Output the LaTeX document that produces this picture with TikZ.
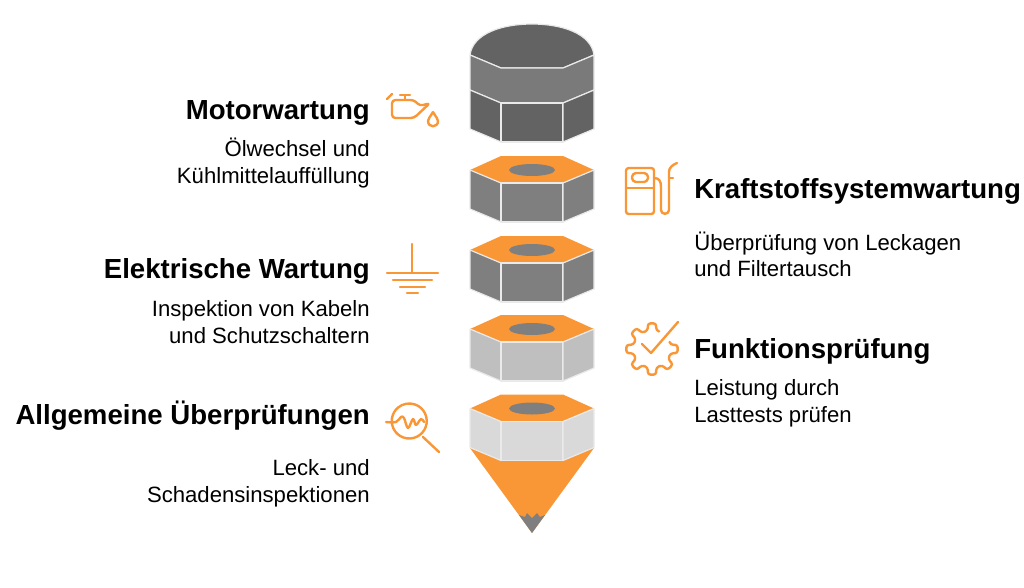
\documentclass[tikz,border=0pt]{standalone}
\usepackage{fontspec}
\setmainfont{Liberation Sans}
\usepackage{xcolor}
\usetikzlibrary{calc}
\definecolor{nutorange}{HTML}{F99737}
\definecolor{nutdark}{HTML}{636363}
\definecolor{nutmid}{HTML}{7F7F7F}
\definecolor{nutlight}{HTML}{BFBFBF}
\definecolor{nutpale}{HTML}{D9D9D9}
\definecolor{nutedge}{HTML}{EAEAEA}
\tikzset{
    heading/.style={font=\fontsize{20.7}{24}\selectfont\bfseries, inner sep=0pt},
    bodytext/.style={font=\fontsize{16.6}{20}\selectfont, inner sep=0pt},
    nutface/.style={draw=nutedge, line width=0.9pt, line join=round},
    icon/.style={draw=nutorange, line width=1.8pt, line cap=round, line join=round}
}

\begin{document}
\begin{tikzpicture}[x=0.75pt, y=-0.75pt]
    \useasboundingbox (0, 0) rectangle (1024, 587);

    \draw [nutface, fill=nutdark] (470, 55) .. controls (473, 33) and (503, 24) .. (532, 24) .. controls (561, 24) and (591, 33) .. (594, 55) -- (563, 68) -- (501, 68) -- cycle;
    \draw [nutface, fill=nutmid!96!black] (470, 55) -- (501, 68) -- (563, 68) -- (594, 55) -- (594, 90) -- (563, 103) -- (501, 103) -- (470, 90) -- cycle;
    \draw [nutface, fill=nutdark] (470, 90) -- (501, 103) -- (501, 142) -- (470, 129) -- cycle;
    \draw [nutface, fill=nutdark] (501, 103) -- (563, 103) -- (563, 142) -- (501, 142) -- cycle;
    \draw [nutface, fill=nutdark] (563, 103) -- (594, 90) -- (594, 129) -- (563, 142) -- cycle;

    \fill [nutorange] (470, 448) -- (532, 533) -- (594, 448) -- cycle;
    \fill [nutmid] (532, 533) -- (519, 515) -- (525, 517) -- (527, 513) -- (532, 518) -- (537, 513) -- (540, 517) -- (545, 515) -- cycle;

    \foreach \y/\col in {156/nutmid, 236/nutmid, 315/nutlight, 394.5/nutpale} {
        \fill [nutorange] (501, \y) -- (563, \y) -- (594, \y+14) -- (563, \y+27) -- (501, \y+27) -- (470, \y+14) -- cycle;
        \fill [nutmid] (532, \y+14) ellipse (23 and 6);
        \draw [nutface, fill=\col] (470, \y+14) -- (501, \y+27) -- (501, \y+66) -- (470, \y+53) -- cycle;
        \draw [nutface, fill=\col] (501, \y+27) -- (563, \y+27) -- (563, \y+66) -- (501, \y+66) -- cycle;
        \draw [nutface, fill=\col] (563, \y+27) -- (594, \y+14) -- (594, \y+53) -- (563, \y+66) -- cycle;
    }

    \node [heading, anchor=base east] (motor) at (370, 119) {Motorwartung};
    \node [bodytext, anchor=base east] (motora) at (370, 156) {Ölwechsel und};
    \node [bodytext, anchor=base east] (motorb) at (370, 183) {Kühlmittelauffüllung};
    \node [heading, anchor=base east] (elektrik) at (370, 278) {Elektrische Wartung};
    \node [bodytext, anchor=base east] (elektrika) at (370, 316) {Inspektion von Kabeln};
    \node [bodytext, anchor=base east] (elektrikb) at (370, 343) {und Schutzschaltern};
    \node [heading, anchor=base east] (allgemein) at (370, 424) {Allgemeine Überprüfungen};
    \node [bodytext, anchor=base east] (allgemeina) at (370, 475) {Leck- und};
    \node [bodytext, anchor=base east] (allgemeinb) at (370, 502) {Schadensinspektionen};
    \node [heading, anchor=base west] (kraftstoff) at (694, 198) {Kraftstoffsystemwartung};
    \node [bodytext, anchor=base west] (kraftstoffa) at (694, 250) {Überprüfung von Leckagen};
    \node [bodytext, anchor=base west] (kraftstoffb) at (694, 276) {und Filtertausch};
    \node [heading, anchor=base west] (funktion) at (694, 358) {Funktionsprüfung};
    \node [bodytext, anchor=base west] (funktiona) at (694, 395) {Leistung durch};
    \node [bodytext, anchor=base west] (funktionb) at (694, 422) {Lasttests prüfen};

    \draw [icon] (387, 99) -- (392, 94);
    \draw [icon] (400, 95) -- (410, 95) (405, 95) -- (405, 100);
    \draw [icon, rounded corners=2.5pt] (392, 100) -- (414, 100) -- (420, 106) -- (430, 103) -- (414, 118) -- (392, 118) -- cycle;
    \draw [icon] (433, 112) .. controls (430, 117) and (428, 119) .. (428, 121) .. controls (428, 128) and (438, 128) .. (438, 121) .. controls (438, 119) and (436, 117) .. (433, 112);

    \draw [icon, rounded corners=2pt] (626, 168) rectangle (654, 214);
    \draw [icon] (626, 188) -- (654, 188);
    \draw [icon, rounded corners=3pt] (632, 173) rectangle (648, 182);
    \draw [icon] (654, 178) .. controls (659, 178) and (661, 181) .. (661, 187) -- (661, 210) .. controls (661, 215) and (669, 215) .. (669, 210) -- (669, 172) .. controls (669, 168) and (672, 165) .. (677, 163);
    \draw [icon] (669, 178) -- (673, 178);

    \draw [icon] (412, 244) -- (412, 273);
    \draw [icon] (387, 273) -- (438, 273);
    \draw [icon] (393, 280) -- (432, 280);
    \draw [icon] (400, 287) -- (425, 287);
    \draw [icon] (407, 293) -- (418, 293);

    \draw [icon, rounded corners=2pt, shift={(652, 349)}] (-22:19)
        \foreach \a in {0, 45, 90, 135, 180, 225, 270} {
            -- (\a-13:19) -- (\a-9:26) -- (\a+9:26) -- (\a+13:19)
        } -- (-68:19);
    \draw [icon] (642, 344) -- (651, 353) -- (678, 322);

    \draw [icon] (392.8, 415) arc (200:-170:17.5);
    \draw [icon] plot [smooth, tension=0.6] coordinates {(386, 422) (396, 422) (401, 417) (404, 418) (408, 428) (413, 419) (416, 425) (421, 419) (424, 422)};
    \draw [icon] (423, 437) -- (439, 452);
\end{tikzpicture}
\end{document}
